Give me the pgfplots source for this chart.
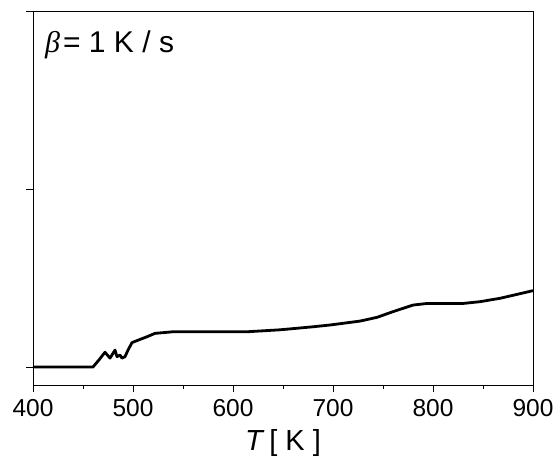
\documentclass[border=0pt]{standalone}
\usepackage{pgfplots}
\pgfplotsset{compat=1.18}
\usepackage{fontspec}
\setmainfont{Liberation Sans}
\newfontfamily\serifgreek{Liberation Serif}
\begin{document}
\begin{tikzpicture}
\begin{axis}[
  scale only axis,
  width=500pt, height=374pt,
  xmin=400, xmax=900,
  ymin=-0.101, ymax=2,
  xtick={400,500,600,700,800,900},
  minor xtick={450,550,650,750,850},
  ytick={0,1,2},
  yticklabels={},
  tick align=outside,
  xtick pos=bottom,
  ytick pos=left,
  major tick length=7pt,
  minor tick length=4.5pt,
  every tick/.style={black, line width=0.8pt},
  axis line style={black, line width=0.8pt},
  /pgf/number format/assume math mode=true,
  /pgf/number format/1000 sep={},
  ticklabel style={font=\fontsize{24.5}{26}\selectfont},
  xticklabel style={yshift=-4pt},
  xlabel={\textit{T}\,[ K ]},
  xlabel style={font=\fontsize{29}{30}\selectfont, yshift=-6pt},
  clip=false,
]
\addplot[black, line width=2.8pt, line join=round] coordinates {
(400,0) (460,0) (466,0.04) (472,0.083) (477,0.05) (480,0.077) (482,0.095)
(484,0.058) (487,0.067) (489,0.05) (492,0.058) (495,0.095) (499,0.137)
(507,0.155) (514,0.17) (522,0.189) (540,0.198) (614,0.198) (647,0.209)
(680,0.226) (697,0.236) (727,0.258) (744,0.279) (760,0.311) (780,0.348)
(794,0.357) (830,0.357) (847,0.367) (867,0.386) (884,0.408) (900,0.429)
};
\node[anchor=base west, font=\fontsize{30}{32}\selectfont, inner sep=0pt]
  at (rel axis cs:0.024,0.888) {{\serifgreek\itshape β}\kern3pt= 1 K / s};
\coordinate (ll) at (rel axis cs:0,0);
\coordinate (ur) at (rel axis cs:1,1);
\end{axis}
\pgfresetboundingbox
\path[use as bounding box] ([shift={(-33pt,-72pt)}]ll) rectangle ([shift={(25pt,11pt)}]ur);
\end{tikzpicture}
\end{document}
